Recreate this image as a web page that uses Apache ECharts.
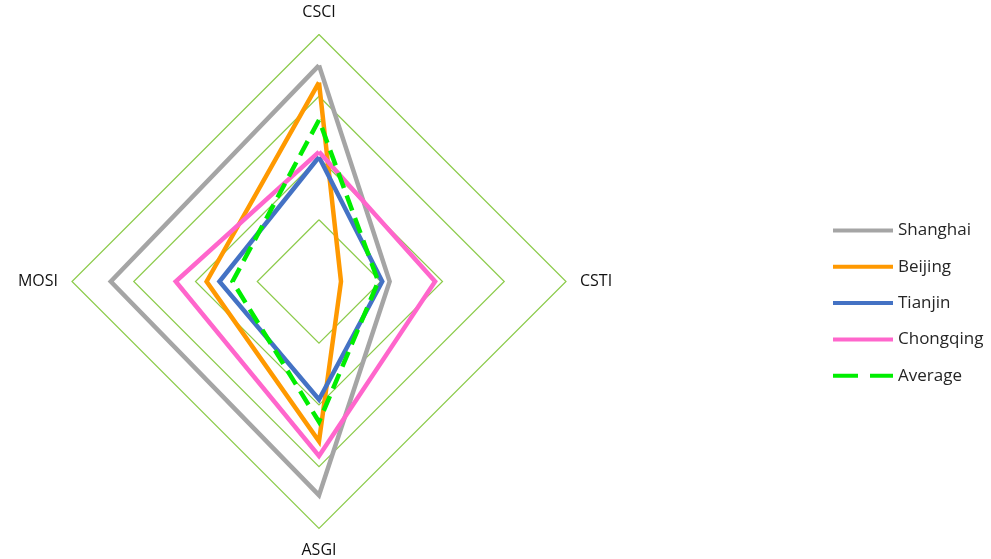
<!DOCTYPE html>
<html>
<head>
<meta charset="utf-8">
<script src="https://cdn.jsdelivr.net/npm/echarts@6/dist/echarts.min.js"></script>
<style>
  html, body { margin: 0; padding: 0; background: #fff; }
  #chart { width: 991px; height: 559px; }
</style>
</head>
<body>
<div id="chart"></div>
<script>
// Radar indicators, listed in ECharts' counter-clockwise order from the top
const indicators = ['CSCI', 'MOSI', 'ASGI', 'CSTI'];

// Index scores per city (share of the outer ring)
const shanghai  = [0.875, 0.843, 0.865, 0.286];
const beijing   = [0.806, 0.455, 0.647, 0.089];
const tianjin   = [0.504, 0.403, 0.478, 0.256];
const chongqing = [0.525, 0.580, 0.706, 0.470];
const average   = [0.654, 0.350, 0.568, 0.240];

const seriesNames  = ['Shanghai', 'Beijing', 'Tianjin', 'Chongqing', 'Average'];
const seriesValues = [shanghai, beijing, tianjin, chongqing, average];
const seriesColors = ['#A5A5A5', '#FF9900', '#4472C4', '#FF66CC', '#00EE00'];

const solidIcon  = 'path://M0,0H60V4H0Z';
const dashedIcon = 'path://M0,0H25V4H0Z M37,0H60V4H37Z';

const chart = echarts.init(document.getElementById('chart'));

chart.setOption({
  backgroundColor: '#ffffff',
  animation: false,
  legend: {
    orient: 'vertical',
    left: 828,
    top: 217,
    itemWidth: 60,
    itemHeight: 14,
    itemGap: 19.3,
    textStyle: { fontFamily: 'Open Sans', fontSize: 17, color: '#262626' },
    data: seriesNames.map((name, i) => ({
      name: name,
      icon: i === 4 ? dashedIcon : solidIcon
    }))
  },
  radar: {
    center: [319, 281.5],
    radius: 247,
    startAngle: 90,
    splitNumber: 4,
    shape: 'polygon',
    nameGap: 14,
    axisName: { fontFamily: 'Open Sans', fontSize: 16, color: '#111' },
    axisLine: { show: false },
    axisTick: { show: false },
    axisLabel: { show: false },
    splitArea: { show: false },
    splitLine: { lineStyle: { color: '#8CCB4A', width: 1.2 } },
    indicator: indicators.map(name => ({ name: name, min: 0, max: 1 }))
  },
  series: seriesNames.map((name, i) => ({
    name: name,
    type: 'radar',
    symbol: 'none',
    color: seriesColors[i],
    z: 2 + i,
    lineStyle: {
      color: seriesColors[i],
      width: 4.5,
      type: i === 4 ? [16, 8] : 'solid',
      join: 'miter'
    },
    data: [{ name: name, value: seriesValues[i] }]
  }))
});
</script>
</body>
</html>
